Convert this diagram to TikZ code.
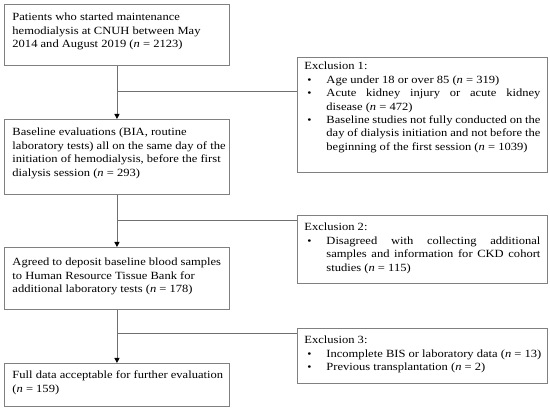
\documentclass[tikz,border=0pt]{standalone}
\usepackage{fontspec}
\setmainfont{Liberation Serif}[FakeStretch=1.14]
\usetikzlibrary{arrows.meta}
\definecolor{boxgray}{RGB}{128,128,128}
\definecolor{linegray}{RGB}{112,112,112}
\newcommand{\fbtext}[4]{\begin{minipage}[c][#2][t]{#1}\fontsize{11}{13.4}\selectfont\raggedright\hfuzz=20pt\vspace*{\dimexpr#3-\ht\strutbox\relax}\strut #4\end{minipage}}
\newcommand{\bul}{\makebox[22pt][l]{\hspace{3pt}\scalebox{0.95}{\textbullet}}}
\newcommand{\ind}{\hspace*{22pt}}
\newcommand{\jl}[1]{\makebox[214pt][s]{#1}}
\newcommand{\nn}{\textit{n}}
\tikzset{
  flowbox/.style={draw=boxgray, line width=0.9pt, anchor=north west, inner xsep=8pt, inner ysep=0pt, align=left},
  exclbox/.style={draw=boxgray, line width=0.9pt, anchor=north west, inner xsep=7pt, inner ysep=0pt, align=left},
  flowline/.style={draw=linegray, line width=0.9pt},
  flowarrow/.style={flowline, -{Triangle[width=5pt,length=5pt,fill=black,color=black]}}
}
\begin{document}
\begin{tikzpicture}[x=1pt,y=-1pt]
\useasboundingbox (0,0) rectangle (550,411);
\node[flowbox] (b1) at (4,4) {\fbtext{209pt}{61pt}{16.5pt}{\mbox{Patients who started maintenance}\\ \mbox{hemodialysis at CNUH between May}\\ \mbox{2014 and August 2019 (\nn{} = 2123)}}};
\node[flowbox] (b2) at (4,119) {\fbtext{209pt}{75pt}{16.5pt}{\mbox{Baseline evaluations (BIA, routine}\\ \mbox{laboratory tests) all on the same day of the}\\ \mbox{initiation of hemodialysis, before the first}\\ \mbox{dialysis session (\nn{} = 293)}}};
\node[flowbox] (b3) at (4,247) {\fbtext{209pt}{62pt}{18.5pt}{\mbox{Agreed to deposit baseline blood samples}\\ \mbox{to Human Resource Tissue Bank for}\\ \mbox{additional laboratory tests (\nn{} = 178)}}};
\node[flowbox] (b4) at (4,363) {\fbtext{209pt}{43pt}{15.5pt}{\mbox{Full data acceptable for further evaluation}\\ \mbox{(\nn{} = 159)}}};
\node[exclbox] (e1) at (297,57) {\fbtext{236pt}{115pt}{12.5pt}{Exclusion 1:\\
\bul\mbox{Age under 18 or over 85 (\nn{} = 319)}\\
\bul\jl{Acute kidney injury or acute kidney}\\
\ind\mbox{disease (\nn{} = 472)}\\
\bul\jl{Baseline studies not fully conducted on the}\\
\ind\jl{day of dialysis initiation and not before the}\\
\ind\mbox{beginning of the first session (\nn{} = 1039)}}};
\node[exclbox] (e2) at (297,215) {\fbtext{236pt}{68pt}{15.5pt}{Exclusion 2:\\
\bul\jl{Disagreed with collecting additional}\\
\ind\jl{samples and information for CKD cohort}\\
\ind\mbox{studies (\nn{} = 115)}}};
\node[exclbox] (e3) at (297,328) {\fbtext{236pt}{55pt}{15.5pt}{Exclusion 3:\\
\bul\mbox{Incomplete BIS or laboratory data (\nn{} = 13)}\\
\bul\mbox{Previous transplantation (\nn{} = 2)}}};
\path (b1.south) ++(0,26) coordinate (j1);
\path (b2.south) ++(0,26) coordinate (j2);
\path (b3.south) ++(0,24) coordinate (j3);
\draw[flowarrow] (b1.south) -- (b2.north);
\draw[flowarrow] (b2.south) -- (b3.north);
\draw[flowarrow] (b3.south) -- (b4.north);
\draw[flowline] (j1) -- (j1 -| e1.west);
\draw[flowline] (j2) -- (j2 -| e2.west);
\draw[flowline] (j3) -- (j3 -| e3.west);
\end{tikzpicture}
\end{document}
